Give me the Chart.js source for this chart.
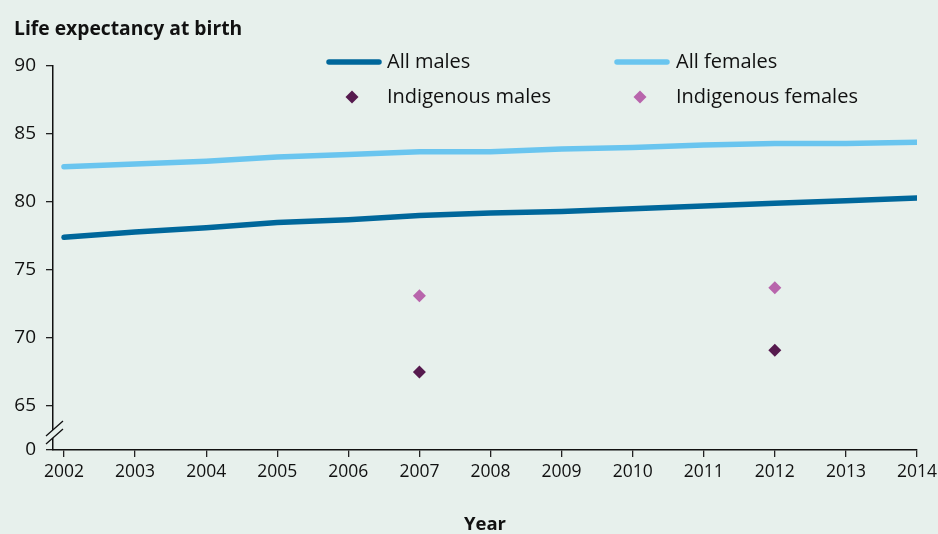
<!DOCTYPE html>
<html>
<head>
<meta charset="utf-8">
<script src="https://cdn.jsdelivr.net/npm/chart.js@4"></script>
<style>
  html,body{margin:0;padding:0;background:#e7f0ec;}
  #wrap{width:938px;height:534px;}
</style>
</head>
<body>
<div id="wrap"><canvas id="c" width="938" height="534"></canvas></div>
<script>
const years = [2002,2003,2004,2005,2006,2007,2008,2009,2010,2011,2012,2013,2014];
const allMales = [77.4,77.8,78.1,78.5,78.7,79.0,79.2,79.3,79.5,79.7,79.9,80.1,80.3];
const allFemales = [82.6,82.8,83.0,83.3,83.5,83.7,83.7,83.9,84.0,84.2,84.3,84.3,84.4];
const indigenousMales = [null,null,null,null,null,67.5,null,null,null,null,69.1,null,null];
const indigenousFemales = [null,null,null,null,null,73.1,null,null,null,null,73.7,null,null];
const yTicks = [65,70,75,80,85,90];
const seriesLabels = ['All males','All females','Indigenous males','Indigenous females'];

const BG = '#e7f0ec';
const FONT = '"Open Sans", "Noto Sans", sans-serif';
const Y_MIN = 90 - (450-66)/13.6; // axis break: bottom of scale labelled "0"

function pts(vals){ return years.map((y,i)=>({x:y,y:vals[i]})).filter(p=>p.y!==null); }

const bgPlugin = {
  id:'bg',
  beforeDraw(chart){
    const ctx = chart.ctx;
    ctx.save(); ctx.fillStyle = BG; ctx.fillRect(0,0,chart.width,chart.height); ctx.restore();
  }
};

const decoPlugin = {
  id:'deco',
  afterDraw(chart){
    const ctx = chart.ctx;
    const ca = chart.chartArea;
    ctx.save();
    // axis titles
    ctx.fillStyle = '#111';
    ctx.font = 'bold 19.3px ' + FONT;
    ctx.textBaseline = 'alphabetic';
    ctx.textAlign = 'left';
    ctx.fillText('Life expectancy at birth', 14, 35);
    ctx.font = 'bold 18.5px ' + FONT;
    ctx.textAlign = 'center';
    ctx.fillText('Year', (ca.left+ca.right)/2, 530);
    // axis break
    const ys = chart.scales.y;
    const yb = (ys.getPixelForValue(65) + ys.getPixelForValue(Y_MIN))/2;
    const x0 = ca.left - 7, x1 = ca.left + 10;
    ctx.fillStyle = BG;
    ctx.beginPath();
    ctx.moveTo(x0, yb+8); ctx.lineTo(x1, yb-7); ctx.lineTo(x1, yb+1); ctx.lineTo(x0, yb+16);
    ctx.closePath(); ctx.fill();
    ctx.strokeStyle = '#111'; ctx.lineWidth = 1.3;
    ctx.beginPath();
    ctx.moveTo(x0, yb+8); ctx.lineTo(x1, yb-7);
    ctx.moveTo(x0, yb+16); ctx.lineTo(x1, yb+1);
    ctx.stroke();
    // legend
    const colX = [327, 615], textX = [387, 676], rowY = [62, 97];
    ctx.font = '20px ' + FONT;
    ctx.textAlign = 'left';
    ctx.textBaseline = 'middle';
    chart.data.datasets.forEach((ds,i)=>{
      const c = i%2, r = Math.floor(i/2);
      const y = rowY[r];
      if (ds.showLine !== false){
        ctx.strokeStyle = ds.borderColor; ctx.lineWidth = 5.5; ctx.lineCap = 'round';
        ctx.beginPath(); ctx.moveTo(colX[c]+2, y); ctx.lineTo(colX[c]+52, y); ctx.stroke();
      } else {
        ctx.fillStyle = ds.backgroundColor;
        const cx = colX[c]+25, s = 6.5;
        ctx.beginPath(); ctx.moveTo(cx, y-s); ctx.lineTo(cx+s, y); ctx.lineTo(cx, y+s); ctx.lineTo(cx-s, y); ctx.closePath(); ctx.fill();
      }
      ctx.fillStyle = '#111';
      ctx.fillText(ds.label, textX[c], y);
    });
    ctx.restore();
  }
};

new Chart(document.getElementById('c'), {
  type:'line',
  data:{
    datasets:[
      {label:seriesLabels[0], data:pts(allMales), borderColor:'#00679b', backgroundColor:'#00679b', borderWidth:5.5, pointRadius:0, borderCapStyle:'round', tension:0},
      {label:seriesLabels[1], data:pts(allFemales), borderColor:'#6ac5ef', backgroundColor:'#6ac5ef', borderWidth:5.5, pointRadius:0, borderCapStyle:'round', tension:0},
      {label:seriesLabels[2], data:pts(indigenousMales), showLine:false, pointStyle:'rectRot', pointRadius:6.5, backgroundColor:'#561a4e', borderColor:'#561a4e', borderWidth:0},
      {label:seriesLabels[3], data:pts(indigenousFemales), showLine:false, pointStyle:'rectRot', pointRadius:6.5, backgroundColor:'#b865ac', borderColor:'#b865ac', borderWidth:0}
    ]
  },
  options:{
    responsive:false,
    animation:false,
    events:[],
    layout:{padding:{top:66, right:21, left:0, bottom:0}},
    plugins:{legend:{display:false}, tooltip:{enabled:false}, title:{display:false}},
    scales:{
      x:{
        type:'linear',
        min: 2002 - 11/71.17,
        max: 2014,
        afterBuildTicks(s){ s.ticks = years.map(v=>({value:v})); },
        afterFit(s){ s.height = 84; s.paddingLeft = 0; s.paddingRight = 0; },
        ticks:{callback:v=>String(v), color:'#111', font:{family:FONT, size:17.5}, padding:5, maxRotation:0, autoSkip:false},
        grid:{drawOnChartArea:false, tickLength:7, color:'#222', lineWidth:1.3},
        border:{color:'#111', width:1.5}
      },
      y:{
        type:'linear',
        min: Y_MIN,
        max: 90,
        afterBuildTicks(s){ s.ticks = [{value:Y_MIN}].concat(yTicks.map(v=>({value:v}))); },
        afterFit(s){ s.width = 53; },
        ticks:{callback:(v)=> (Math.abs(v-Y_MIN)<1e-6 ? '0' : String(v)), color:'#111', font:{family:FONT, size:19}, padding:10},
        grid:{drawOnChartArea:false, tickLength:7, color:'#222', lineWidth:1.3},
        border:{color:'#111', width:1.5}
      }
    }
  },
  plugins:[bgPlugin, decoPlugin]
});
</script>
</body>
</html>
